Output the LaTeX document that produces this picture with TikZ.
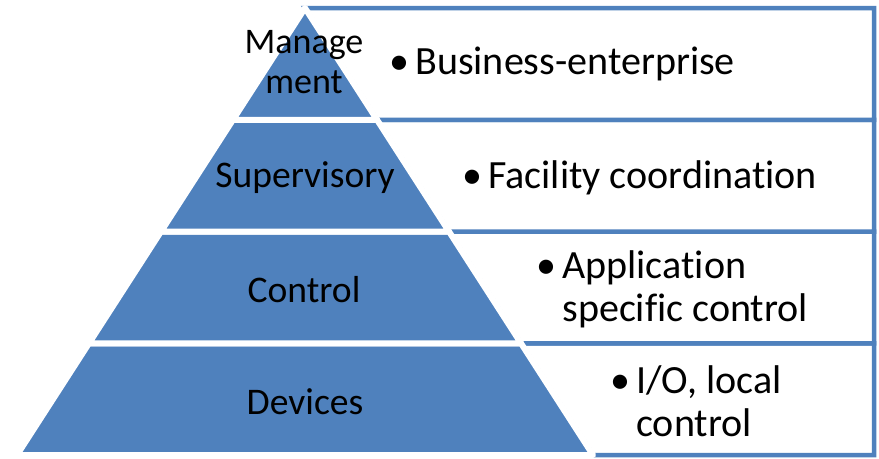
\documentclass[tikz,border=0pt]{standalone}
\usepackage{fontspec}
\setmainfont[Ligatures=NoCommon]{Carlito}
\definecolor{pyrblue}{HTML}{4F81BD}

\tikzset{
  band/.style={fill=pyrblue, draw=white, line width=0.12cm, line join=round},
  levelbox/.style={draw=pyrblue, line width=0.09cm, fill=white},
  lvl/.style={inner sep=0pt, font=\fontsize{21.4}{23}\selectfont, align=center},
  item/.style={inner sep=0pt, font=\fontsize{22.8}{24.5}\selectfont, align=left, anchor=west}
}

\begin{document}
\begin{tikzpicture}[x=0.02cm, y=0.02cm]
  % slope of the sides, apex x, apex y, band height
  \def\s{0.6443}
  \def\ax{305}
  \def\ay{450}
  \def\h{111.75}

  \useasboundingbox (0,0) rectangle (879,458);

  % boxes on the right, one per level
  \foreach \i in {0,...,3} {
    \pgfmathsetmacro\ylo{3 + \i*\h}
    \pgfmathsetmacro\yhi{3 + (\i+1)*\h}
    \pgfmathsetmacro\xlo{\ax + \s*(\ay-\ylo)}
    \pgfmathsetmacro\xhi{\ax + \s*(\ay-\yhi)}
    \draw[levelbox] (\xlo,\ylo) -- (874,\ylo) -- (874,\yhi) -- (\xhi,\yhi) -- cycle;
  }

  % pyramid bands, bottom to top
  \foreach \i in {0,...,3} {
    \pgfmathsetmacro\ylo{3 + \i*\h}
    \pgfmathsetmacro\yhi{3 + (\i+1)*\h}
    \pgfmathsetmacro\dlo{\s*(\ay-\ylo)}
    \pgfmathsetmacro\dhi{\s*(\ay-\yhi)}
    \draw[band] (\ax-\dlo,\ylo) -- (\ax+\dlo,\ylo) -- (\ax+\dhi,\yhi) -- (\ax-\dhi,\yhi) -- cycle;
  }

  % level names
  \node[lvl, font=\fontsize{20.5}{23}\selectfont] (mgmt) at (304,396) {Manage\\ment};
  \node[lvl] (sup)  at (305,280) {Supervisory};
  \node[lvl] (ctrl) at (304,168) {Control};
  \node[lvl] (dev)  at (305,56)  {Devices};

  % what each level does
  \node[item] (biz)  at (415,394) {\llap{\textbullet\hskip0.12cm}Business-enterprise};
  \node[item] (fac)  at (488,280) {\llap{\textbullet\hskip0.12cm}Facility coordination};
  \node[item] (app)  at (562,169) {\llap{\textbullet\hskip0.12cm}Application\\specific control};
  \node[item] (io)   at (636,57)  {\llap{\textbullet\hskip0.12cm}I/O, local\\control};
\end{tikzpicture}
\end{document}
